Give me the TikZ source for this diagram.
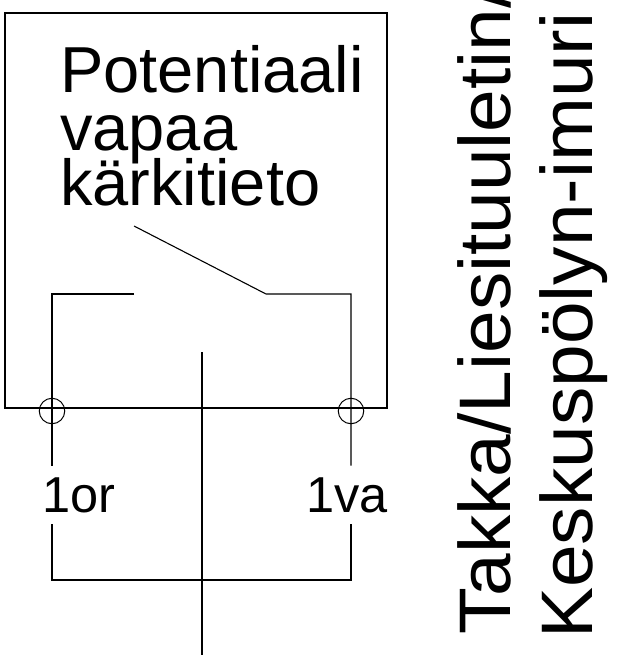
\documentclass[tikz,border=0pt]{standalone}
\usepackage{fontspec}
\setmainfont{Liberation Sans}
\begin{document}
\begin{tikzpicture}[x=1pt,y=-1pt,
  wire/.style={draw=black,line width=1.1pt},
  term/.style={circle,draw=black,line width=1pt,minimum size=25.5pt,inner sep=0pt},
  lab/.style={inner sep=0pt,anchor=base west,text=black},
  big/.style={lab,font=\fontsize{65}{65}\selectfont},
  mid/.style={lab,font=\fontsize{50.5}{50.5}\selectfont},
  side/.style={lab,rotate=90,font=\fontsize{73}{73}\selectfont}]
\useasboundingbox (0,0) rectangle (631,655);
\clip (0,0) rectangle (631,655);
\fill[white] (0,0) rectangle (631,655);
\coordinate (boxtl) at (5,13);
\coordinate (boxbr) at (387,408);
\draw[wire] (boxtl) rectangle (boxbr);
\node[term] (tl) at (52,411) {};
\node[term] (tr) at (351,411) {};
\node[big] (t1) at (60,93) {Potentiaali};
\node[big] (t2) at (60,150) {vapaa};
\node[big] (t3) at (60,205) {kärkitieto};
\coordinate (lt1) at (52,294);
\coordinate (lt2) at (134,294);
\coordinate (rt1) at (351,294);
\coordinate (rt2) at (266,294);
\coordinate (sw) at (134,226);
\coordinate (lend) at (52,465.5);
\coordinate (rend) at (351,465.5);
\coordinate (lb) at (52,524);
\coordinate (rb) at (351,524);
\coordinate (lc) at (52,580);
\coordinate (rc) at (351,580);
\coordinate (mt) at (202,352);
\coordinate (mb) at (202,655);
\draw[wire] (lt2) -- (lt1) -- (tl.center) -- (lend);
\draw[wire] (sw) -- (rt2) -- (rt1) -- (tr.center) -- (rend);
\draw[wire] (lb) -- (lc) -- (rc) -- (rb);
\draw[wire] (mt) -- (mb);
\node[mid] (or) at (42,512) {1or};
\node[mid] (va) at (306,512) {1va};
\node[side] (s1) at (510,635) {\scalebox{1.05}[1]{Takka/Liesituuletin/}};
\node[side] (s2) at (592.5,639) {\scalebox{1.05}[1]{Keskuspölyn-imuri}};
\end{tikzpicture}
\end{document}
